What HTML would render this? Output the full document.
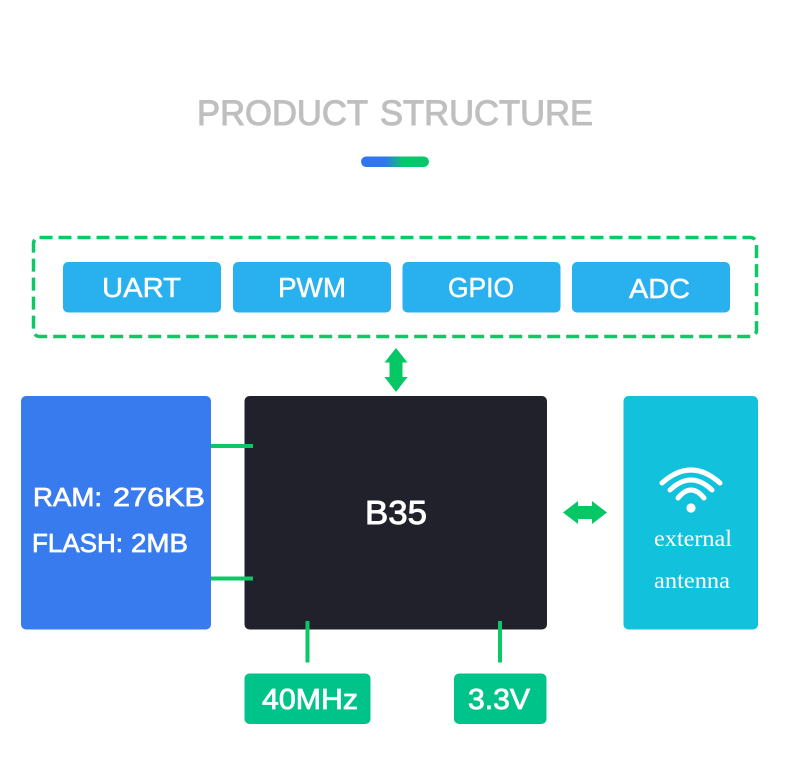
<!DOCTYPE html>
<html>
<head>
<meta charset="utf-8">
<style>
html,body{margin:0;padding:0;background:#fff;width:790px;height:768px;overflow:hidden}
svg{display:block}
text{font-family:"Liberation Sans",sans-serif}
</style>
</head>
<body>
<svg width="790" height="768" viewBox="0 0 790 768" xmlns="http://www.w3.org/2000/svg">
<defs>
<linearGradient id="g" x1="0" x2="1" y1="0" y2="0">
<stop offset="0.35" stop-color="#2f77ee"/>
<stop offset="0.62" stop-color="#06c86a"/>
</linearGradient>
</defs>
<rect width="790" height="768" fill="#fff"/>
<g font-size="35" fill="#bfbfbf" stroke="#bfbfbf" stroke-width="1">
<text x="197" y="125" textLength="171" lengthAdjust="spacingAndGlyphs">PRODUCT</text>
<text x="380" y="125" textLength="213" lengthAdjust="spacingAndGlyphs">STRUCTURE</text>
</g>
<rect x="361" y="156.5" width="68" height="10.5" rx="5.2" fill="url(#g)"/>

<rect x="33.5" y="237.5" width="723" height="99" rx="6" fill="none" stroke="#0ec866" stroke-width="3.500" stroke-dasharray="13 6"/>
<g fill="#29b0ef">
<rect x="63" y="262" width="158" height="50.5" rx="5"/>
<rect x="233" y="262" width="158" height="50.5" rx="5"/>
<rect x="402.5" y="262" width="158" height="50.5" rx="5"/>
<rect x="572" y="262" width="158" height="50.5" rx="5"/>
</g>
<g fill="#fff" stroke="#fff" stroke-width="0.5" font-size="28">
<text x="102" y="297" textLength="79" lengthAdjust="spacingAndGlyphs">UART</text>
<text x="278" y="297" textLength="68" lengthAdjust="spacingAndGlyphs">PWM</text>
<text x="448" y="297" textLength="66" lengthAdjust="spacingAndGlyphs">GPIO</text>
<text x="629" y="298" textLength="61" lengthAdjust="spacingAndGlyphs">ADC</text>
</g>

<polygon fill="#06c766" points="396,348 407.5,362.5 402.500,362.5 402.500,377 407.5,377 396,392 384.5,377 389.500,377 389.500,362.5 384.5,362.5"/>
<polygon fill="#06c766" points="563,512.5 578,501 578,506 592,506 592,501 607,512.5 592,524 592,519 578,519 578,524"/>

<rect x="21" y="396" width="190" height="233.5" rx="5" fill="#387bef"/>
<rect x="244.5" y="396" width="302.5" height="233.5" rx="5" fill="#21212b"/>
<rect x="623.5" y="396" width="134.5" height="233.5" rx="5" fill="#12c2dd"/>

<g fill="#fff" stroke="#fff" stroke-width="0.7" font-size="26">
<text x="33" y="506" textLength="69" lengthAdjust="spacingAndGlyphs">RAM:</text>
<text x="113" y="506" textLength="92" lengthAdjust="spacingAndGlyphs">276KB</text>
<text x="32" y="552" textLength="91" lengthAdjust="spacingAndGlyphs">FLASH:</text>
<text x="131" y="552" textLength="57" lengthAdjust="spacingAndGlyphs">2MB</text>
<text x="365" y="524" font-size="33" stroke-width="0.9" textLength="62" lengthAdjust="spacingAndGlyphs">B35</text>
</g>

<g stroke="#0cc765" stroke-width="4" fill="none">
<line x1="211" y1="446" x2="253" y2="446"/>
<line x1="211" y1="578.5" x2="253" y2="578.5"/>
<line x1="307.5" y1="621" x2="307.5" y2="662.5"/>
<line x1="500" y1="621" x2="500" y2="662.5"/>
</g>

<rect x="244.5" y="673.5" width="126" height="50.5" rx="5" fill="#00c389"/>
<rect x="454" y="673.5" width="92.5" height="50.5" rx="5" fill="#00c389"/>
<g fill="#fff" stroke="#fff" stroke-width="0.8" font-size="29">
<text x="262" y="709" textLength="96" lengthAdjust="spacingAndGlyphs">40MHz</text>
<text x="468" y="709" textLength="62" lengthAdjust="spacingAndGlyphs">3.3V</text>
</g>

<g fill="none" stroke="#fff" stroke-width="5" stroke-linecap="round">
<path d="M662 483 Q691 457 720 483"/>
<path d="M670 490 Q691 470 712 490"/>
<path d="M678 498 Q691 482 704 498"/>
</g>
<circle cx="691" cy="508" r="4.6" fill="#fff"/>
<g fill="#fff" font-size="23">
<text x="654" y="546" textLength="78" lengthAdjust="spacingAndGlyphs" style="font-family:'Liberation Serif',serif">external</text>
<text x="654" y="588" textLength="76" lengthAdjust="spacingAndGlyphs" style="font-family:'Liberation Serif',serif">antenna</text>
</g>
</svg>
</body>
</html>
